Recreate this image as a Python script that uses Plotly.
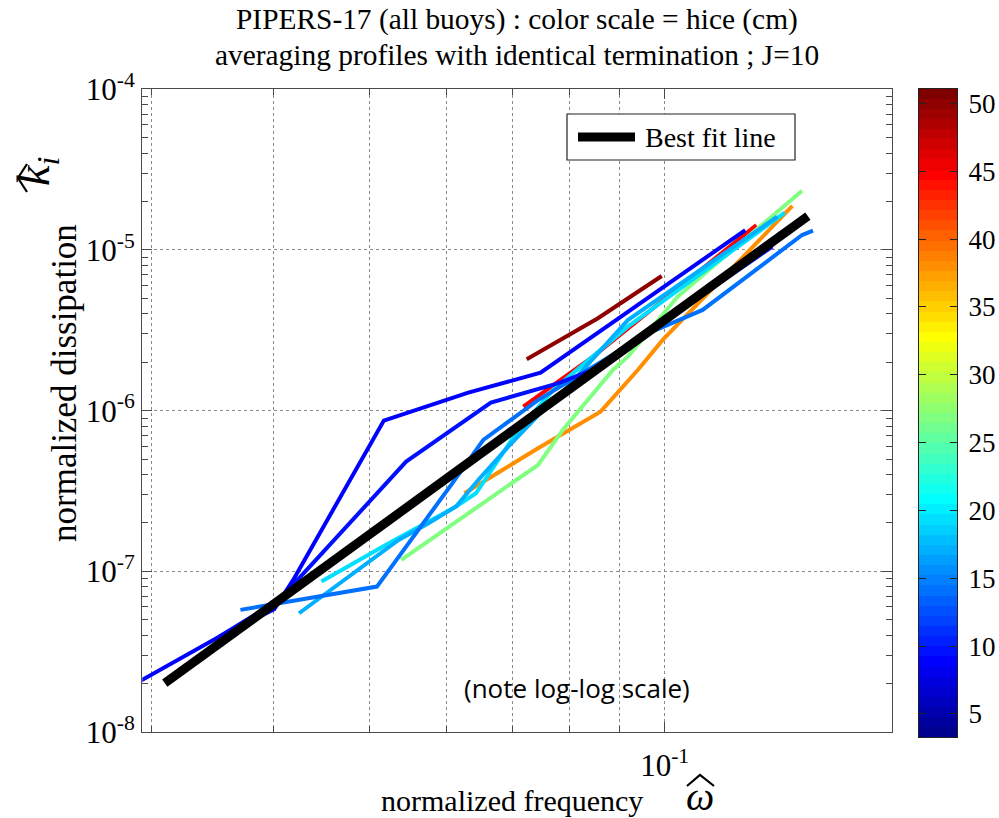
import numpy as np
import plotly.graph_objects as go

# ---------------------------------------------------------------
# Averaged dissipation profiles (one per ice-thickness group)
# omega = normalized frequency, k = normalized dissipation, hice in cm
# ---------------------------------------------------------------
hice_values = [45.0, 50.0, 38.0, 27.0, 19.5, 17.0, 14.0, 10.0, 9.0]

omega_profiles = [
    [0.07178, 0.08453, 0.124],
    [0.07236, 0.08551, 0.09931],
    [0.06253, 0.0743, 0.08604, 0.09389, 0.09954, 0.1349],
    [0.05393, 0.0743, 0.07875, 0.08855, 0.09173, 0.1031, 0.138],
    [0.04472, 0.05236, 0.06131, 0.06424, 0.07096, 0.077, 0.09173, 0.1325],
    [0.04243, 0.04826, 0.05359, 0.05748, 0.06131, 0.06461, 0.0693, 0.07521, 0.0797, 0.09173, 0.1302],
    [0.03698, 0.05093, 0.06095, 0.06536, 0.0743, 0.09612, 0.1093, 0.138, 0.1416],
    [0.03521, 0.0405, 0.05454, 0.06653, 0.07784, 0.08453, 0.1287],
    [0.02754, 0.03521, 0.04003, 0.04195, 0.05176, 0.0631, 0.07475, 0.1208],
]

k_profiles = [
    [1.059e-6, 2.168e-6, 1.429e-5],
    [2.089e-6, 3.758e-6, 6.887e-6],
    [3.062e-7, 5.834e-7, 9.863e-7, 1.791e-6, 2.754e-6, 1.879e-5],
    [1.178e-7, 4.592e-7, 7.586e-7, 1.791e-6, 2.168e-6, 5.129e-6, 2.339e-5],
    [8.63e-8, 1.496e-7, 2.529e-7, 3.062e-7, 7.586e-7, 1.346e-6, 3.334e-6, 1.706e-5],
    [5.483e-8, 9.727e-8, 1.567e-7, 1.991e-7, 2.529e-7, 3.707e-7, 5.97e-7, 1.009e-6, 1.41e-6, 3.664e-6, 1.611e-5],
    [5.754e-8, 8.035e-8, 3.614e-7, 6.577e-7, 1.164e-6, 3.02e-6, 4.236e-6, 1.239e-5, 1.318e-5],
    [3.926e-8, 6.64e-8, 4.82e-7, 1.122e-6, 1.479e-6, 1.791e-6, 1.05e-5],
    [1.69e-8, 3.926e-8, 5.81e-8, 9.06e-8, 8.67e-7, 1.294e-6, 1.722e-6, 1.33e-5],
]

# Power-law best fit k = fit_coef * omega ** fit_exponent
fit_coef = 0.1009
fit_exponent = 4.44
fit_omega_range = [0.03097, 0.1399]

# Axis ticks
x_tick_vals = [0.1]
x_tick_text = ["10<sup>-1</sup>"]
y_tick_vals = [1e-8, 1e-7, 1e-6, 1e-5, 1e-4]
y_tick_text = ["10<sup>-8</sup>", "10<sup>-7</sup>", "10<sup>-6</sup>",
               "10<sup>-5</sup>", "10<sup>-4</sup>"]

# Color axis (cm)
hice_min, hice_max = 3.3, 51.1
cbar_ticks = [5, 10, 15, 20, 25, 30, 35, 40, 45, 50]

N_COLORS = 64
SERIF = "Liberation Serif"

# ---------------------------------------------------------------
# Page geometry (pixels) -> paper fractions
# ---------------------------------------------------------------
W, H = 999, 818
M_L, M_R, M_T, M_B = 142, 0, 88, 81
PW, PH = W - M_L - M_R, H - M_T - M_B


def px(x):
    return (x - M_L) / PW


def py(y):
    return (H - M_B - y) / PH


def jet(t):
    r = np.clip(1.5 - abs(4 * t - 3), 0, 1)
    g = np.clip(1.5 - abs(4 * t - 2), 0, 1)
    b = np.clip(1.5 - abs(4 * t - 1), 0, 1)
    return "rgb(%d,%d,%d)" % (round(r * 255), round(g * 255), round(b * 255))


jet_table = [jet((i + 1) / N_COLORS) for i in range(N_COLORS)]

# stepped colorscale, one band per table entry
colorscale = []
for i, c in enumerate(jet_table):
    colorscale.append([i / N_COLORS, c])
    colorscale.append([(i + 1) / N_COLORS, c])


def hice_color(v):
    idx = int((v - hice_min) / (hice_max - hice_min) * N_COLORS)
    return jet_table[min(max(idx, 0), N_COLORS - 1)]


fig = go.Figure()

for h, om, kk in zip(hice_values, omega_profiles, k_profiles):
    fig.add_trace(go.Scatter(
        x=om, y=kk, mode="lines",
        line=dict(color=hice_color(h), width=4),
        showlegend=False, hoverinfo="skip",
    ))

fit_x = np.array(fit_omega_range)
fit_y = fit_coef * fit_x ** fit_exponent
fig.add_trace(go.Scatter(
    x=fit_x, y=fit_y, mode="lines",
    line=dict(color="black", width=9),
    name="Best fit line", showlegend=False, hoverinfo="skip",
))

# colorbar drawn as a one-column heatmap on its own axes
band = (hice_max - hice_min) / N_COLORS
band_centers = hice_min + band * (np.arange(N_COLORS) + 0.5)
fig.add_trace(go.Heatmap(
    x=[0], y=band_centers, z=[[v] for v in band_centers],
    zmin=hice_min, zmax=hice_max, colorscale=colorscale,
    showscale=False, hoverinfo="skip", xaxis="x2", yaxis="y2",
))

grid_color = "#8a8a8a"
frame_color = "#4a4a4a"
axis_common = dict(
    type="log", tickmode="array",
    showline=True, linecolor=frame_color, linewidth=1.3, mirror="allticks",
    ticks="inside", ticklen=10, tickcolor=frame_color,
    showgrid=True, gridcolor=grid_color, griddash="dot", gridwidth=1,
    zeroline=False, automargin=False,
    tickfont=dict(family=SERIF, size=31, color="black"),
)

fig.update_layout(
    xaxis=dict(
        **axis_common,
        tickvals=x_tick_vals, ticktext=x_tick_text,
        domain=[px(142.3), px(892)],
        range=[np.log10(0.02938), np.log10(0.1704)],
        ticklabelstandoff=6,
        minor=dict(dtick="D1", ticks="inside", ticklen=6, tickcolor=frame_color,
                   showgrid=True, gridcolor=grid_color, griddash="dot", gridwidth=1),
    ),
    yaxis=dict(
        **axis_common,
        tickvals=y_tick_vals, ticktext=y_tick_text,
        domain=[py(732), py(89.3)],
        range=[-8, -4],
        minor=dict(dtick="D1", ticks="inside", ticklen=6, tickcolor=frame_color,
                   showgrid=False),
    ),
    xaxis2=dict(
        domain=[px(919), px(957)], anchor="y2", range=[-0.5, 0.5],
        showticklabels=False, ticks="", showgrid=False, zeroline=False,
        showline=True, linecolor="#222", linewidth=1, mirror=True, automargin=False,
    ),
    yaxis2=dict(
        domain=[py(737), py(88.5)], anchor="x2", side="right",
        range=[hice_min, hice_max], tickvals=cbar_ticks,
        ticks="inside", ticklen=7, tickcolor="#222", mirror="allticks",
        showline=True, linecolor="#222", linewidth=1,
        showgrid=False, zeroline=False, automargin=False,
        ticklabelstandoff=5,
        tickfont=dict(family=SERIF, size=27, color="black"),
    ),
)

# legend box for the fit line
fig.add_shape(type="rect", xref="paper", yref="paper",
              x0=px(567), x1=px(795), y0=py(160), y1=py(114),
              line=dict(color="#222", width=1.2), fillcolor="white", layer="above")
fig.add_shape(type="line", xref="paper", yref="paper",
              x0=px(578), x1=px(635), y0=py(137), y1=py(137),
              line=dict(color="black", width=9), layer="above")


def hat(points, width=2.2):
    path = "M" + " L".join("%f,%f" % (px(a), py(b)) for a, b in points)
    fig.add_shape(type="path", xref="paper", yref="paper", path=path,
                  line=dict(color="black", width=width), layer="above")


# circumflex over omega and over k (rotated symbol)
hat([(687, 786), (700, 775), (714, 786)])
hat([(27, 164), (18, 178), (27, 192)])

annotations = [
    dict(text="Best fit line", x=px(643), y=py(137), xanchor="left", yanchor="middle",
         font=dict(family=SERIF, size=28, color="black")),
    dict(text="PIPERS-17 (all buoys) : color scale = hice (cm)",
         x=px(517), y=py(20), xanchor="center", yanchor="middle",
         font=dict(family=SERIF, size=29.4, color="black")),
    dict(text="averaging profiles with identical termination ; J=10",
         x=px(517), y=py(55), xanchor="center", yanchor="middle",
         font=dict(family=SERIF, size=29.4, color="black")),
    dict(text="(note log-log scale)", x=px(577), y=py(688), xanchor="center", yanchor="middle",
         font=dict(family="Open Sans", size=26, color="black")),
    dict(text="normalized frequency", x=px(512), y=py(800), xanchor="center", yanchor="middle",
         font=dict(family=SERIF, size=30, color="black")),
    dict(text="<i>ω</i>", x=px(700), y=py(796), xanchor="center", yanchor="middle",
         font=dict(family=SERIF, size=40, color="black")),
    dict(text="normalized dissipation", x=px(64), y=py(383), xanchor="center", yanchor="middle",
         textangle=-90, font=dict(family=SERIF, size=35, color="black")),
    dict(text="<i>k<sub>i</sub></i>", x=px(37), y=py(172), xanchor="center", yanchor="middle",
         textangle=-90, font=dict(family=SERIF, size=46, color="black")),
]
for a in annotations:
    a.update(xref="paper", yref="paper", showarrow=False)
    fig.add_annotation(**a)

fig.update_layout(
    width=W, height=H,
    margin=dict(l=M_L, r=M_R, t=M_T, b=M_B),
    paper_bgcolor="white", plot_bgcolor="white",
    showlegend=False,
)

fig.write_html("out.html")
